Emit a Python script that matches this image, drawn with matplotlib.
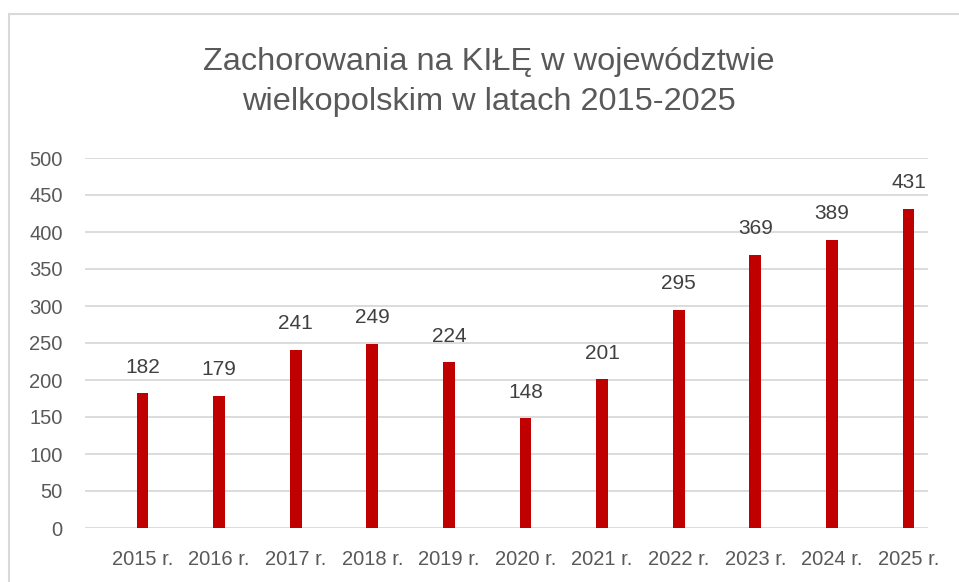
import matplotlib.pyplot as plt
from matplotlib.patches import Rectangle

plt.rcParams['font.family'] = ['Liberation Sans', 'DejaVu Sans']

years = ["2015 r.", "2016 r.", "2017 r.", "2018 r.", "2019 r.", "2020 r.",
         "2021 r.", "2022 r.", "2023 r.", "2024 r.", "2025 r."]
cases = [182, 179, 241, 249, 224, 148, 201, 295, 369, 389, 431]
yticks = list(range(0, 501, 50))

W, H = 959, 582
fig = plt.figure(figsize=(W / 100, H / 100), dpi=100)
txt = "#595959"

# chart frame (cut off at right and bottom in the reference)
fig.patches.append(Rectangle((9 / W, -0.1), 1.1, 1.1 - 14 / H,
                             transform=fig.transFigure, fill=False,
                             edgecolor="#D9D9D9", linewidth=1.5))

ax = fig.add_axes([85 / W, 1 - 528 / H, (928 - 85) / W, (528 - 158) / H])
x = range(len(years))
ax.bar(x, cases, width=0.155, color="#C00000", zorder=3)
for xi, v in zip(x, cases):
    ax.annotate(str(v), (xi, v), xytext=(0, 12), textcoords="offset points",
                ha="center", va="bottom", fontsize=15, color="#404040")

ax.set_ylim(0, 500)
ax.set_yticks(yticks)
ax.set_xlim(-0.75, 10.255)
ax.set_xticks(list(x))
ax.set_xticklabels(years)
ax.grid(axis="y", color="#D9D9D9", linewidth=1.3, zorder=0)
for s in ax.spines.values():
    s.set_visible(False)
ax.tick_params(axis="both", length=0, labelsize=14.5, labelcolor=txt)
ax.tick_params(axis="y", pad=16)
ax.tick_params(axis="x", pad=16)

fig.text(489 / W, 1 - 82 / H,
         "Zachorowania na KIŁĘ w województwie\nwielkopolskim w latach 2015-2025",
         ha="center", va="center", fontsize=23.4, color=txt, linespacing=1.42)

fig.savefig("out.png", dpi=100, facecolor="white")
